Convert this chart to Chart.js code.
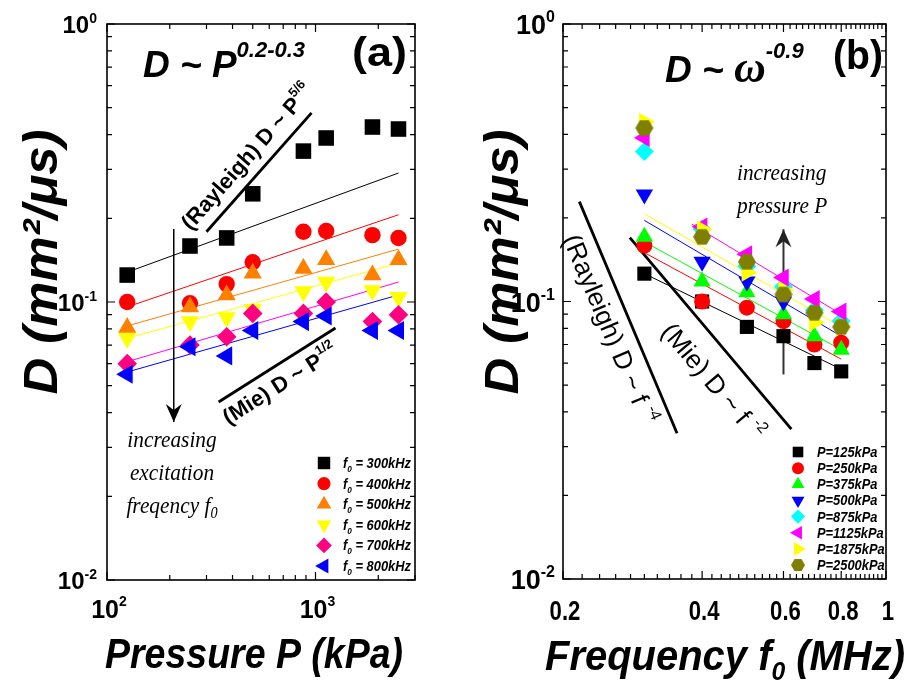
<!DOCTYPE html>
<html lang="en">
<head>
<meta charset="UTF-8">
<title>D vs pressure and frequency</title>
<script src="https://cdn.jsdelivr.net/npm/chart.js@4.4.0/dist/chart.umd.min.js"></script>
<style>
  body { margin: 0; background: #fff; }
  #wrap { position: relative; width: 910px; height: 687px; background: #fff; }
  canvas { position: absolute; top: 0; }
</style>
</head>
<body>
<div id="wrap">
  <canvas id="chartA" width="455" height="687" style="left:0"></canvas>
  <canvas id="chartB" width="455" height="687" style="left:455px"></canvas>
</div>
<script>
// ---- panel (a): D vs pressure, one series per excitation frequency
const pressureKPa = [125, 250, 375, 500, 875, 1125, 1875, 2500];
const dF300 = [0.125, 0.159, 0.170, 0.245, 0.349, 0.389, 0.426, 0.419];
const dF400 = [0.100, 0.099, 0.116, 0.139, 0.179, 0.180, 0.174, 0.170];
const dF500 = [0.081, 0.096, 0.106, 0.127, 0.132, 0.142, 0.125, 0.142];
const dF600 = [0.074, 0.085, 0.088, 0.094, 0.109, 0.118, 0.110, 0.104];
const dF700 = [0.060, 0.070, 0.075, 0.091, 0.091, 0.100, 0.085, 0.090];
const dF800 = [0.055, 0.069, 0.064, 0.079, 0.085, 0.089, 0.079, 0.079];
const freqNames = ['300kHz', '400kHz', '500kHz', '600kHz', '700kHz', '800kHz'];

// fitted power laws (end points)
const fitPressure = [125, 2500];
const fitF300 = [0.128, 0.291];
const fitF400 = [0.096, 0.206];
const fitF500 = [0.082, 0.155];
const fitF600 = [0.074, 0.138];
const fitF700 = [0.061, 0.118];
const fitF800 = [0.056, 0.106];

// guide slopes and arrow
const rayleighAX = [300, 957],  rayleighAY = [0.179, 0.479];
const mieAX = [343, 1247],      mieAY = [0.0437, 0.0806];
const arrowAX = [209, 209],     arrowAY = [0.183, 0.037];

// ---- panel (b): D vs frequency, one series per pressure
const freqMHz = [0.3, 0.4, 0.5, 0.6, 0.7, 0.8];
const dP125  = [0.126, 0.100, 0.081, 0.075, 0.060, 0.056];
const dP250  = [0.159, 0.100, 0.095, 0.085, 0.070, 0.071];
const dP375  = [0.171, 0.118, 0.108, 0.090, 0.075, 0.067];
const dP500  = [0.243, 0.139, 0.118, 0.100, 0.090, 0.082];
const dP875  = [0.347, 0.182, 0.134, 0.113, 0.093, 0.085];
const dP1125 = [0.389, 0.186, 0.148, 0.122, 0.102, 0.092];
const dP1875 = [0.444, 0.182, 0.127, 0.110, 0.084, 0.081];
const dP2500 = [0.422, 0.171, 0.139, 0.106, 0.091, 0.081];
const pressNames = ['125kPa', '250kPa', '375kPa', '500kPa', '875kPa', '1125kPa', '1875kPa', '2500kPa'];

const fitFreq = [0.3, 0.8];
const fitP125 = [0.126, 0.057];
const fitP250 = [0.150, 0.062];
const fitP375 = [0.164, 0.067];
const fitP500 = [0.196, 0.075];
const fitP1875 = [0.207, 0.081];
const fitFreq1125 = [0.38, 0.8];
const fitP1125 = [0.190, 0.090];

const rayleighBX = [0.217, 0.353], rayleighBY = [0.229, 0.0335];
const mieBX = [0.279, 0.624],      mieBY = [0.170, 0.0347];
const arrowBX = [0.6, 0.6],        arrowBY = [0.0546, 0.182];

// ticks
const yMajor = [0.01, 0.1, 1];
const yExp = ['-2', '-1', '0'];
const yMinor = [0.02, 0.03, 0.04, 0.05, 0.06, 0.07, 0.08, 0.09, 0.2, 0.3, 0.4, 0.5, 0.6, 0.7, 0.8, 0.9];
const pMajor = [100, 1000];
const pExp = ['2', '3'];
const pMinor = [200, 300, 400, 500, 600, 700, 800, 900, 2000, 3000];
const fMajor = [0.2, 0.4, 0.6, 0.8, 1];
const fLabels = ['0.2', '0.4', '0.6', '0.8', '1'];
const fMinor = [];
for (let v = 22; v < 100; v += 2) fMinor.push(v / 100);

const SANS = '"Liberation Sans", Arial, sans-serif';
const SERIF = '"Liberation Serif", "Times New Roman", serif';

// olive hexagon marker
function hexCanvas(r) {
  const c = document.createElement('canvas');
  c.width = c.height = Math.ceil(2 * r + 2);
  const g = c.getContext('2d');
  g.fillStyle = '#808000';
  g.beginPath();
  for (let i = 0; i < 6; i++) {
    const a = Math.PI / 3 * i;
    const px = c.width / 2 + r * Math.cos(a), py = c.height / 2 + r * Math.sin(a);
    if (i) g.lineTo(px, py); else g.moveTo(px, py);
  }
  g.closePath();
  g.fill();
  return c;
}
const hexBig = hexCanvas(9), hexSmall = hexCanvas(7);

const seriesA = [
  { name: freqNames[0], data: dF300, color: '#000000', style: 'rect', rot: 0, r: 11 },
  { name: freqNames[1], data: dF400, color: '#ff0000', style: 'circle', rot: 0, r: 8.2 },
  { name: freqNames[2], data: dF500, color: '#ff8000', style: 'triangle', rot: 0, r: 10.5 },
  { name: freqNames[3], data: dF600, color: '#ffff00', style: 'triangle', rot: 180, r: 10.5 },
  { name: freqNames[4], data: dF700, color: '#ff0080', style: 'rectRot', rot: 0, r: 9.8 },
  { name: freqNames[5], data: dF800, color: '#0000ff', style: 'triangle', rot: 270, r: 11 }
];
const fitsA = [
  { y: fitF300, color: '#000000' }, { y: fitF400, color: '#ff0000' },
  { y: fitF500, color: '#ff8000' }, { y: fitF600, color: '#ffff00' },
  { y: fitF700, color: '#ff00ff' }, { y: fitF800, color: '#0000ff' }
];
const seriesB = [
  { name: pressNames[0], data: dP125, color: '#000000', style: 'rect', rot: 0, r: 10 },
  { name: pressNames[1], data: dP250, color: '#ff0000', style: 'circle', rot: 0, r: 8 },
  { name: pressNames[2], data: dP375, color: '#00ff00', style: 'triangle', rot: 0, r: 10 },
  { name: pressNames[3], data: dP500, color: '#0000ff', style: 'triangle', rot: 180, r: 10 },
  { name: pressNames[4], data: dP875, color: '#00ffff', style: 'rectRot', rot: 0, r: 9.5 },
  { name: pressNames[5], data: dP1125, color: '#ff00ff', style: 'triangle', rot: 270, r: 10.5 },
  { name: pressNames[6], data: dP1875, color: '#ffff00', style: 'triangle', rot: 90, r: 10.5 },
  { name: pressNames[7], data: dP2500, color: '#808000', style: hexBig, small: hexSmall, rot: 0, r: 9 }
];
const fitsB = [
  { x: fitFreq, y: fitP125, color: '#000000' }, { x: fitFreq, y: fitP250, color: '#ff0000' },
  { x: fitFreq, y: fitP375, color: '#00ff00' }, { x: fitFreq, y: fitP500, color: '#0000ff' },
  { x: fitFreq, y: fitP1875, color: '#ffff00' }, { x: fitFreq1125, y: fitP1125, color: '#ff00ff' }
];

function pts(xs, ys) { return xs.map((v, i) => ({ x: v, y: ys[i] })); }

function markerSets(series, xs) {
  return series.map((s, i) => ({
    data: pts(xs, s.data), order: -(i + 1),
    pointStyle: s.style, pointRotation: s.rot, pointRadius: s.r,
    backgroundColor: s.color, borderColor: s.color, borderWidth: 0, showLine: false
  }));
}
function lineSet(xs, ys, color, width, order) {
  return { data: pts(xs, ys), showLine: true, pointRadius: 0, borderColor: color, borderWidth: width, order: order };
}

// text with super/subscripts; segs = [text, font, dy]
function rich(ctx, segs, x, y, o) {
  o = o || {};
  ctx.save();
  ctx.translate(x, y);
  if (o.rot) ctx.rotate(o.rot);
  let w = 0;
  for (const s of segs) { ctx.font = s[1]; w += ctx.measureText(s[0]).width; }
  const sx = o.w ? o.w / w : (o.sx || 1);
  ctx.scale(sx, 1);
  let cx = o.align === 'center' ? -w / 2 : (o.align === 'right' ? -w : 0);
  ctx.fillStyle = o.color || '#000';
  ctx.textBaseline = 'alphabetic';
  ctx.textAlign = 'left';
  for (const s of segs) { ctx.font = s[1]; ctx.fillText(s[0], cx, s[2] || 0); cx += ctx.measureText(s[0]).width; }
  ctx.restore();
}

function frameAndTicks(ctx, a, xs, ys, xMaj, xMin, yMaj, yMin) {
  ctx.save();
  ctx.strokeStyle = '#000';
  ctx.lineWidth = 1.2;
  ctx.beginPath();
  const tx = (v, len) => { const p = xs.getPixelForValue(v); ctx.moveTo(p, a.bottom); ctx.lineTo(p, a.bottom - len); ctx.moveTo(p, a.top); ctx.lineTo(p, a.top + len); };
  const ty = (v, len) => { const p = ys.getPixelForValue(v); ctx.moveTo(a.left, p); ctx.lineTo(a.left + len, p); ctx.moveTo(a.right, p); ctx.lineTo(a.right - len, p); };
  xMaj.forEach(v => tx(v, 8)); xMin.forEach(v => tx(v, 5));
  yMaj.forEach(v => ty(v, 8)); yMin.forEach(v => ty(v, 5));
  ctx.stroke();
  ctx.lineWidth = 1.6;
  ctx.strokeRect(a.left, a.top, a.right - a.left, a.bottom - a.top);
  ctx.restore();
}

function arrowHead(ctx, xs, ys, X, Y, color) {
  const x0 = xs.getPixelForValue(X[0]), y0 = ys.getPixelForValue(Y[0]);
  const x1 = xs.getPixelForValue(X[1]), y1 = ys.getPixelForValue(Y[1]);
  const ang = Math.atan2(y1 - y0, x1 - x0);
  ctx.save();
  ctx.translate(x1, y1);
  ctx.rotate(ang);
  ctx.fillStyle = color;
  ctx.beginPath();
  ctx.moveTo(0, 0); ctx.lineTo(-18, -8); ctx.lineTo(-12, 0); ctx.lineTo(-18, 8);
  ctx.closePath();
  ctx.fill();
  ctx.restore();
}

function slopeLabel(ctx, xs, ys, X, Y, along, perp, segs) {
  const x0 = xs.getPixelForValue(X[0]), y0 = ys.getPixelForValue(Y[0]);
  const x1 = xs.getPixelForValue(X[1]), y1 = ys.getPixelForValue(Y[1]);
  const ang = Math.atan2(y1 - y0, x1 - x0);
  const ux = Math.cos(ang), uy = Math.sin(ang);
  const nx = -uy, ny = ux;
  rich(ctx, segs, x0 + ux * along + nx * perp, y0 + uy * along + ny * perp, { rot: ang });
}

function legendMarker(ctx, s, x, y, k) {
  ctx.save();
  if (s.small) {
    ctx.drawImage(s.small, x - s.small.width / 2, y - s.small.height / 2);
  } else {
    ctx.fillStyle = s.color;
    Chart.helpers.drawPoint(ctx, { pointStyle: s.style, rotation: s.rot, radius: s.r * k, borderWidth: 0 }, x, y);
  }
  ctx.restore();
}

const panelA = {
  id: 'panelA',
  afterDraw(chart) {
    const { ctx, chartArea: a, scales: { x, y } } = chart;
    frameAndTicks(ctx, a, x, y, pMajor, pMinor, yMajor, yMinor);
    arrowHead(ctx, x, y, arrowAX, arrowAY, '#000');
    yMajor.forEach((v, i) => rich(ctx, [['10', 'bold 24px ' + SANS], [yExp[i], 'bold 14px ' + SANS, -10]], 97, y.getPixelForValue(v) + 8.5, { align: 'right' }));
    pMajor.forEach((v, i) => rich(ctx, [['10', 'bold 25px ' + SANS], [pExp[i], 'bold 14px ' + SANS, -12]], x.getPixelForValue(v) + 2, 618, { align: 'center' }));
    rich(ctx, [['Pressure P (kPa)', 'bold italic 42px ' + SANS]], 105, 668, { w: 298 });
    rich(ctx, [['D (mm²/μs)', 'bold italic 48px ' + SANS]], 57, 262, { rot: -Math.PI / 2, align: 'center', w: 265 });
    rich(ctx, [['D ~ P', 'bold italic 37px ' + SANS], ['0.2-0.3', 'bold italic 22px ' + SANS, -20]], 143, 77);
    rich(ctx, [['(a)', 'bold 40px ' + SANS]], 352, 66, { w: 55 });
    slopeLabel(ctx, x, y, rayleighAX, rayleighAY, -10, -12, [['(Rayleigh) D ~ P', 'bold 22px ' + SANS], ['5/6', 'bold 13px ' + SANS, -11]]);
    slopeLabel(ctx, x, y, mieAX, mieAY, -4, 25, [['(Mie) D ~ P', 'bold 22px ' + SANS], ['1/2', 'bold 13px ' + SANS, -11]]);
    const it = 'italic 24px ' + SERIF;
    rich(ctx, [['increasing', it]], 172, 447, { align: 'center', sx: 0.89 });
    rich(ctx, [['excitation', it]], 172, 480, { align: 'center', sx: 0.89 });
    rich(ctx, [['freqency f', it], ['0', 'italic 16px ' + SERIF, 5]], 172, 513, { align: 'center', sx: 0.89 });
    seriesA.forEach((s, i) => {
      const ly = 463 + i * 20.6;
      legendMarker(ctx, s, 324, ly, 0.8);
      rich(ctx, [['f', 'bold italic 14px ' + SANS], ['0', 'bold italic 9px ' + SANS, 4], [' = ' + s.name, 'bold italic 14px ' + SANS]], 343, ly + 5, { sx: 0.92 });
    });
  }
};

const panelB = {
  id: 'panelB',
  afterDraw(chart) {
    const { ctx, chartArea: a, scales: { x, y } } = chart;
    frameAndTicks(ctx, a, x, y, fMajor, fMinor, yMajor, yMinor);
    arrowHead(ctx, x, y, arrowBX, arrowBY, '#222');
    yMajor.forEach((v, i) => rich(ctx, [['10', 'bold 27px ' + SANS], [yExp[i], 'bold 16px ' + SANS, -12]], 100, y.getPixelForValue(v) + 10, { align: 'right' }));
    fMajor.forEach((v, i) => rich(ctx, [[fLabels[i], 'bold 27px ' + SANS]], x.getPixelForValue(v) + 2, 620, { align: 'center', sx: 0.82 }));
    rich(ctx, [['Frequency f', 'bold italic 42px ' + SANS], ['0', 'bold italic 26px ' + SANS, 10], [' (MHz)', 'bold italic 42px ' + SANS]], 90, 670, { w: 360 });
    rich(ctx, [['D (mm²/μs)', 'bold italic 48px ' + SANS]], 63, 262, { rot: -Math.PI / 2, align: 'center', w: 265 });
    rich(ctx, [['D ~ ', 'bold italic 37px ' + SANS], ['ω', 'bold italic 44px ' + SERIF], ['-0.9', 'bold italic 22px ' + SANS, -24]], 210, 82);
    rich(ctx, [['(b)', 'bold 40px ' + SANS]], 378, 69, { w: 50 });
    slopeLabel(ctx, x, y, rayleighBX, rayleighBY, 28, 30, [['(Rayleigh) D ~ f ', '26px ' + SANS], ['-4', '16px ' + SANS, -12]]);
    slopeLabel(ctx, x, y, mieBX, mieBY, 92, 38, [['(Mie) D ~ f ', '26px ' + SANS], ['-2', '16px ' + SANS, -12]]);
    const it = 'italic 24px ' + SERIF;
    rich(ctx, [['increasing', it]], 282, 180, { sx: 0.89 });
    rich(ctx, [['pressure P', it]], 282, 213, { sx: 0.89 });
    seriesB.forEach((s, i) => {
      const ly = 452 + i * 16.15;
      legendMarker(ctx, s, 343, ly, 0.75);
      rich(ctx, [['P=' + s.name, 'bold italic 14px ' + SANS]], 362, ly + 5, { sx: 0.92 });
    });
  }
};

function axes(xmin, xmax, yw, xh) {
  return {
    x: { type: 'logarithmic', min: xmin, max: xmax, ticks: { display: false }, grid: { display: false }, border: { display: false }, afterFit(s) { s.height = xh; } },
    y: { type: 'logarithmic', min: 0.01, max: 1, ticks: { display: false }, grid: { display: false }, border: { display: false }, afterFit(s) { s.width = yw; } }
  };
}

const common = {
  responsive: false, animation: false, devicePixelRatio: 1,
  plugins: { legend: { display: false }, tooltip: { enabled: false } }
};

new Chart(document.getElementById('chartA'), {
  type: 'scatter',
  data: {
    datasets: [
      ...markerSets(seriesA, pressureKPa),
      ...fitsA.map(f => lineSet(fitPressure, f.y, f.color, 1, 5)),
      lineSet(rayleighAX, rayleighAY, '#000', 2.8, 4),
      lineSet(mieAX, mieAY, '#000', 2.8, 4),
      lineSet(arrowAX, arrowAY, '#000', 1.5, 4)
    ]
  },
  options: { ...common, layout: { padding: { top: 24, right: 40, left: 0, bottom: 0 } }, scales: axes(100, 3000, 107, 107) },
  plugins: [panelA]
});

new Chart(document.getElementById('chartB'), {
  type: 'scatter',
  data: {
    datasets: [
      ...markerSets(seriesB, freqMHz),
      ...fitsB.map(f => lineSet(f.x, f.y, f.color, 1, 5)),
      lineSet(rayleighBX, rayleighBY, '#000', 2.8, 4),
      lineSet(mieBX, mieBY, '#000', 2.8, 4),
      lineSet(arrowBX, arrowBY, '#333', 2, 4)
    ]
  },
  options: { ...common, layout: { padding: { top: 24, right: 24, left: 0, bottom: 0 } }, scales: axes(0.2, 1, 108, 108) },
  plugins: [panelB]
});
</script>
</body>
</html>
